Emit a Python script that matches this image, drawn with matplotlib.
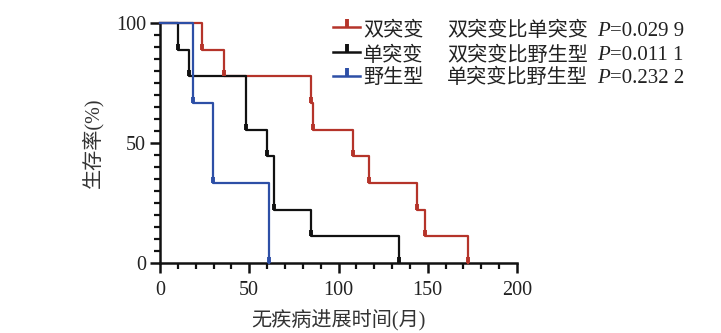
import matplotlib
matplotlib.use("Agg")
import matplotlib.pyplot as plt
from matplotlib.path import Path
from matplotlib.lines import Line2D

plt.rcParams['font.family'] = ['Liberation Serif', 'Noto Sans CJK SC', 'DejaVu Sans']

# Data (months, survival %)
double_t = [0, 23.7, 35.9, 84.6, 85.9, 108.3, 117.3, 144.2, 148.5, 172.7]
double_s = [100, 88.9, 77.8, 66.7, 55.6, 44.4, 33.3, 22.2, 11.1, 0]
single_t = [0, 9.9, 16.2, 48.2, 60.1, 64.0, 84.4, 134.0]
single_s = [100, 88.9, 77.8, 55.6, 44.4, 22.2, 11.1, 0]
wild_t = [0, 18.5, 29.7, 61.0]
wild_s = [100, 66.7, 33.3, 0]

series_names = ['双突变', '单突变', '野生型']
comparisons = ['双突变比单突变', '双突变比野生型', '单突变比野生型']
p_values = ['=0.029 9', '=0.011 1', '=0.232 2']

colors = ['#B5342A', '#111111', '#2D4FA6']

W, H = 721, 333
fig = plt.figure(figsize=(W / 100, H / 100), dpi=100)
L, R, T, B = 160, 517, 23, 263
ax = fig.add_axes([L / W, 1 - B / H, (R - L) / W, (B - T) / H])

tick_up = Path([(0, 0), (0, 1)], [Path.MOVETO, Path.LINETO])

for (t, s), c in zip([(double_t, double_s), (single_t, single_s), (wild_t, wild_s)], colors):
    ax.step(t, s, where='post', color=c, lw=1.6, clip_on=False, zorder=3)
    ax.plot(t[1:], s[1:], ls='none', marker=tick_up, ms=9, mew=2.8,
            color=c, clip_on=False, zorder=4)

ax.set_xlim(0, 200)
ax.set_ylim(0, 100)
for sp in ['top', 'right']:
    ax.spines[sp].set_visible(False)
for sp in ['left', 'bottom']:
    ax.spines[sp].set_linewidth(1.8)
    ax.spines[sp].set_color('#111111')

ax.set_xticks([0, 50, 100, 150, 200])
ax.set_xticks(range(0, 201, 10), minor=True)
ax.set_yticks([0, 50, 100])
ax.set_yticks(range(0, 101, 5), minor=True)
ax.tick_params(which='major', direction='out', length=7, width=1.8, labelsize=14.5,
               colors='#111111')
ax.tick_params(axis='x', which='major', pad=6)
ax.tick_params(axis='y', which='major', pad=3)
ax.tick_params(which='minor', direction='out', length=4, width=1.6, colors='#111111')
for lab in ax.get_xticklabels() + ax.get_yticklabels():
    lab.set_color('#222222')

ax.set_xlabel('无疾病进展时间(月)', fontsize=14.5, color='#333333', labelpad=7)
ax.set_ylabel('生存率(%)', fontsize=14.5, color='#333333', labelpad=9)


def fx(px):
    return px / W


def fy(py):
    return 1 - py / H


line_y = [27, 52, 76]
text_y = [31, 56, 78]
for i in range(3):
    ly = fy(line_y[i])
    fig.add_artist(Line2D([fx(333), fx(360)], [ly, ly], color=colors[i], lw=1.8,
                          transform=fig.transFigure))
    fig.add_artist(Line2D([fx(346.5)], [ly], ls='none', marker=tick_up, ms=11, mew=2.8,
                          color=colors[i], transform=fig.transFigure))
    fig.text(fx(363), fy(text_y[i]), series_names[i], fontsize=14.5, color='#222222',
             va='center', ha='left')
    fig.text(fx(447), fy(text_y[i]), comparisons[i], fontsize=14.5, color='#222222',
             va='center', ha='left')
    fig.text(fx(597), fy(text_y[i]), 'P', fontsize=15, color='#222222', style='italic',
             family='Liberation Serif', va='center', ha='left')
    fig.text(fx(610), fy(text_y[i]), p_values[i], fontsize=15, color='#222222',
             family='Liberation Serif', va='center', ha='left')

fig.savefig('out.png', dpi=100)
